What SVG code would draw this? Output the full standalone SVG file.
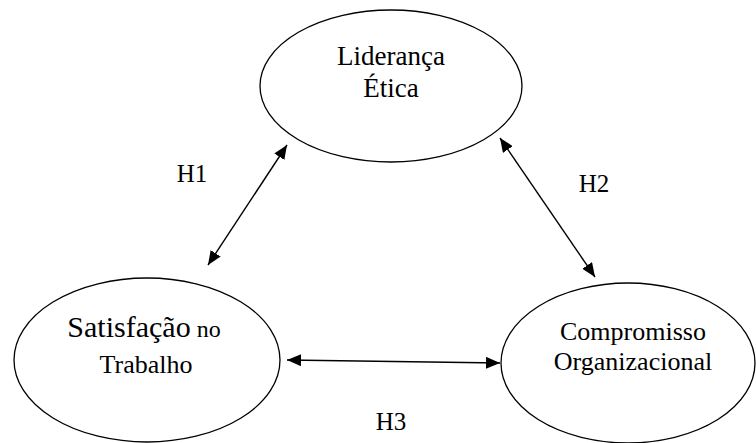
<svg xmlns="http://www.w3.org/2000/svg" width="756" height="443" viewBox="0 0 756 443">
<style>
.node ellipse{fill:#fff;stroke:#000;stroke-width:1.3}
.conn line{stroke:#000;stroke-width:1.4;fill:none}
.t{font-family:"Liberation Serif","Times New Roman",serif;fill:#000;text-anchor:middle}
.lbl{font-size:25px}
</style>
<defs>
<marker id="ah" viewBox="0 0 14 12" refX="14" refY="6" markerWidth="14" markerHeight="12" markerUnits="userSpaceOnUse" orient="auto-start-reverse">
<path d="M0,0 L14,6 L0,12 Z" fill="#000"/>
</marker>
</defs>
<rect width="756" height="443" fill="#fff"/>
<g id="lideranca" class="node">
<ellipse cx="391" cy="86" rx="131" ry="76"/>
<text class="t" x="391" y="65" font-size="27">Liderança</text>
<text class="t" x="391" y="97" font-size="27">Ética</text>
</g>
<g id="satisfacao" class="node">
<ellipse cx="147" cy="360" rx="133" ry="82"/>
<text class="t" x="144" y="337"><tspan font-size="30">Satisfação</tspan><tspan font-size="24"> no</tspan></text>
<text class="t" x="146" y="373" font-size="26">Trabalho</text>
</g>
<g id="compromisso" class="node">
<ellipse cx="628" cy="363" rx="127" ry="80"/>
<text class="t" x="633" y="340" font-size="26">Compromisso</text>
<text class="t" x="633" y="370" font-size="26">Organizacional</text>
</g>
<g id="connectors" class="conn">
<line x1="208" y1="265" x2="287" y2="145" marker-start="url(#ah)" marker-end="url(#ah)"/>
<line x1="500" y1="138" x2="595" y2="277" marker-start="url(#ah)" marker-end="url(#ah)"/>
<line x1="287" y1="360" x2="500" y2="363" marker-start="url(#ah)" marker-end="url(#ah)"/>
</g>
<g id="labels">
<text class="t lbl" x="192" y="182">H1</text>
<text class="t lbl" x="594" y="192">H2</text>
<text class="t lbl" x="391" y="430">H3</text>
</g>
</svg>
